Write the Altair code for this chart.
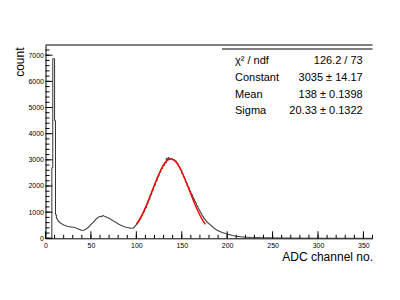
import altair as alt
import pandas as pd

# ---- histogram counts, 1 ADC channel per bin ----
counts_000_099 = [
    0, 0, 0, 0, 0, 0, 0, 2700, 6870, 6870,
    4500, 900, 760, 700, 650, 610, 580, 560, 540, 520,
    500, 490, 480, 460, 450, 445, 440, 435, 430, 425,
    420, 425, 410, 395, 380, 365, 350, 335, 320, 310,
    300, 305, 310, 330, 350, 375, 400, 430, 470, 510,
    545, 580, 615, 650, 690, 725, 760, 785, 810, 830,
    840, 820, 850, 870, 845, 830, 825, 800, 790, 770,
    760, 735, 710, 690, 665, 650, 630, 610, 585, 560,
    545, 525, 505, 490, 475, 460, 445, 430, 425, 415,
    410, 400, 395, 390, 385, 380, 390, 420, 460, 500,
]
counts_100_199 = [
    540, 585, 625, 700, 745, 820, 870, 960, 1010, 1110,
    1160, 1270, 1330, 1440, 1500, 1620, 1680, 1800, 1850, 1980,
    2030, 2160, 2210, 2330, 2380, 2490, 2530, 2650, 2670, 2790,
    2780, 2900, 2880, 3060, 3000, 3090, 3010, 3050, 3020, 3040,
    2990, 3010, 2950, 2960, 2880, 2870, 2760, 2740, 2640, 2600,
    2470, 2440, 2330, 2280, 2160, 2110, 2000, 1960, 1850, 1800,
    1700, 1660, 1560, 1500, 1420, 1360, 1270, 1220, 1130, 1080,
    1000, 950, 880, 830, 770, 730, 680, 640, 600, 570,
    540, 510, 480, 450, 420, 390, 365, 340, 320, 300,
    280, 265, 250, 235, 220, 210, 200, 190, 180, 170,
]
counts_200_359 = [
    160, 150, 140, 130, 120, 110, 100, 95, 90, 85,
    80, 75, 70, 65, 60, 55, 50, 48, 45, 42,
    40, 38, 36, 37, 34, 33, 35, 31, 30, 32, 29, 28, 30, 27, 26, 27, 25, 24, 25, 23,
    22, 22, 21, 22, 20, 19, 20, 18, 18, 19, 17, 16, 17, 15, 16, 15, 14, 14, 15, 13,
    13, 13, 12, 12, 11, 12, 11, 10, 11, 10, 10, 9, 10, 9, 9, 8, 9, 8, 8, 8,
    7, 7, 8, 7, 7, 6, 7, 6, 6, 6, 5, 6, 5, 5, 5, 4, 5, 4, 4, 4,
    4, 4, 3, 4, 3, 3, 3, 3, 2, 3, 2, 2, 2, 2, 2, 2, 1, 2, 1, 1,
    1, 1, 1, 1, 1, 1, 1, 1, 0, 1, 0, 1, 0, 0, 1, 0, 0, 0, 0, 0,
    0, 0, 0, 0, 0, 0, 0, 0, 0, 0, 0, 0, 0, 0, 0, 0, 0, 0, 0, 0,
]

# ---- fitted gaussian curve ----
fit_x = [100, 104, 108, 112, 116, 120, 124, 128, 132, 136, 138,
         140, 144, 148, 152, 156, 160, 164, 168, 172, 176]
fit_y = [529, 750, 1022, 1340, 1690, 2051, 2394, 2689, 2906, 3020, 3035,
         3020, 2906, 2689, 2394, 2051, 1690, 1340, 1022, 750, 529]

# ---- axis ticks ----
x_major_ticks = [0, 50, 100, 150, 200, 250, 300, 350]
x_minor_ticks = list(range(0, 361, 10))
y_major_ticks = [0, 1000, 2000, 3000, 4000, 5000, 6000, 7000]
y_minor_ticks = list(range(0, 7201, 200))

# ---- statistics box ----
stat_names = ["χ² / ndf", "Constant", "Mean", "Sigma"]
stat_values = ["126.2 / 73", "3035 ± 14.17", "138 ± 0.1398", "20.33 ± 0.1322"]

W = 327
H = 193.3
FONT = "Liberation Sans"

counts = counts_000_099 + counts_100_199 + counts_200_359
hist_df = pd.DataFrame({"x": list(range(0, 361)), "y": counts + [counts[-1]]})
fit_df = pd.DataFrame({"x": fit_x, "y": fit_y})
one = pd.DataFrame({"a": [0]})

xs = alt.Scale(domain=[0, 360], nice=False, zero=False)
ys = alt.Scale(domain=[0, 7390], nice=False)

xa = alt.Axis(
    values=x_major_ticks, format="d", ticks=False, grid=False, labelFontSize=7,
    labelPadding=3, labelFont=FONT, labelColor="black", labelOverlap=False,
    labelFlush=False, domainColor="black", title="ADC channel no.",
    titleFont=FONT, titleFontSize=12, titleFontWeight="normal",
    titleColor="black", titleX=W, titleY=22, titleAlign="right",
    titleBaseline="alphabetic")
ya = alt.Axis(
    values=y_major_ticks, format="d", ticks=False, grid=False, labelFontSize=7,
    labelPadding=2, labelFont=FONT, labelColor="black", labelOverlap=False,
    labelFlush=False, domainColor="black", title="count",
    titleFont=FONT, titleFontSize=12, titleFontWeight="normal",
    titleColor="black", titleX=-22.5, titleY=2, titleAlign="right",
    titleBaseline="alphabetic")

X = alt.X("x:Q", scale=xs, axis=xa)
Y = alt.Y("y:Q", scale=ys, axis=ya)

hist = alt.Chart(hist_df).mark_line(
    interpolate="step-after", color="#333333", strokeWidth=1
).encode(x=X, y=Y)

fit = alt.Chart(fit_df).mark_line(
    interpolate="monotone", color="#ff0000", strokeWidth=1.4
).encode(x=X, y=Y)

ymaj = alt.Chart(pd.DataFrame({"y": y_major_ticks})).mark_rule(color="black").encode(
    y=Y, x=alt.value(0), x2=alt.value(7))
ymin = alt.Chart(pd.DataFrame({"y": y_minor_ticks})).mark_rule(color="black").encode(
    y=Y, x=alt.value(0), x2=alt.value(4))
xmaj = alt.Chart(pd.DataFrame({"x": x_major_ticks})).mark_rule(color="black").encode(
    x=X, y=alt.value(H), y2=alt.value(H - 7))
xmin = alt.Chart(pd.DataFrame({"x": x_minor_ticks})).mark_rule(color="black").encode(
    x=X, y=alt.value(H), y2=alt.value(H - 3.5))

frame_top = alt.Chart(one).mark_rule(color="black").encode(
    x=alt.value(0), x2=alt.value(W), y=alt.value(0))
stats_line = alt.Chart(one).mark_rule(color="black").encode(
    x=alt.value(176.5), x2=alt.value(W), y=alt.value(4))

stats_names = alt.Chart(one).mark_text(
    align="left", baseline="alphabetic", font=FONT, fontSize=11,
    lineHeight=16.8, color="black"
).encode(text=alt.value(stat_names), x=alt.value(189.5), y=alt.value(19))
stats_vals = alt.Chart(one).mark_text(
    align="right", baseline="alphabetic", font=FONT, fontSize=11,
    lineHeight=16.8, color="black"
).encode(text=alt.value(stat_values), x=alt.value(317.2), y=alt.value(19))

chart = alt.layer(
    hist, fit, ymaj, ymin, xmaj, xmin, frame_top, stats_line, stats_names, stats_vals
).properties(
    width=W, height=H,
    autosize=alt.AutoSizeParams(type="none"),
    padding={"left": 37.5, "top": 37, "right": 19.5, "bottom": 53.7},
).configure_view(stroke=None)

chart.save("out.html", embed_options={"renderer": "svg", "actions": False})
